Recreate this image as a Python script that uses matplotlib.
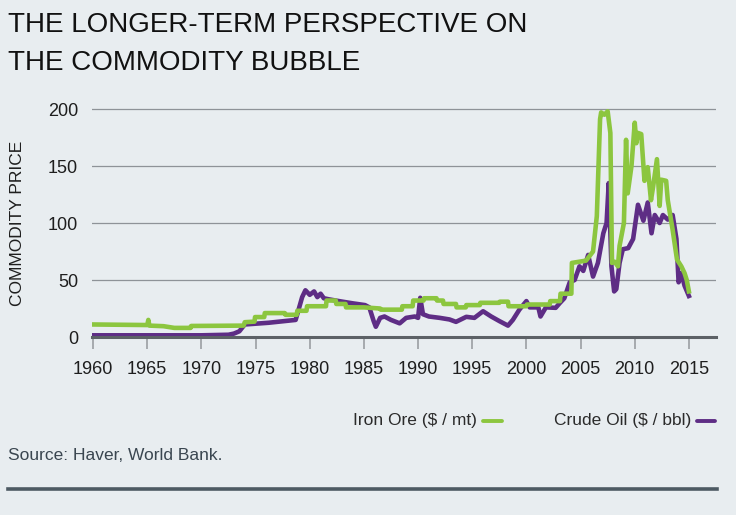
"""
Commodity bubble chart: iron ore vs crude oil, 1960-2015.
Writes out.png (736x515).
"""

import matplotlib.pyplot as plt
from matplotlib.lines import Line2D

# ---- data ------------------------------------------------------------------
iron_years = [
    1960.0, 1965.0, 1965.1, 1965.2, 1966.5, 1967.5, 1969.0, 1969.05, 1973.9,
    1974.0, 1974.9, 1974.95, 1975.8, 1975.85, 1977.7, 1977.75, 1978.8, 1978.85,
    1979.7, 1979.75, 1981.5, 1981.55, 1982.4, 1982.45, 1983.3, 1983.35, 1985.0,
    1986.5, 1986.55, 1988.5, 1988.55, 1989.5, 1989.55, 1990.5, 1990.55, 1991.7,
    1991.75, 1992.3, 1992.35, 1993.5, 1993.55, 1994.4, 1994.45, 1995.7, 1995.75,
    1997.5, 1997.55, 1998.3, 1998.35, 2000.0, 2000.05, 2002.15, 2002.2, 2003.1,
    2003.15, 2004.15, 2004.2, 2005.5, 2006.15, 2006.5, 2006.8, 2006.9, 2007.2,
    2007.5, 2007.75, 2007.9, 2008.15, 2008.45, 2008.6, 2009.0, 2009.2, 2009.35,
    2009.7, 2010.0, 2010.15, 2010.3, 2010.6, 2010.9, 2011.2, 2011.5, 2011.7,
    2012.05, 2012.3, 2012.45, 2012.9, 2013.05, 2013.5, 2013.9, 2014.3, 2014.6,
    2014.8, 2015.0,
]
iron_values = [
    11, 10.5, 15, 10, 9.5, 8, 8, 9.7, 10,
    13, 13.5, 17.5, 17.5, 21, 21, 19.5, 19.5, 23,
    23, 27, 27, 32, 32, 29, 29, 26, 26,
    25, 24, 24, 27, 27, 32, 32, 34, 34,
    32, 32, 29, 29, 26, 26, 28, 28, 30,
    30, 31, 31, 27, 27, 28.5, 28.5, 31.5, 31.5,
    38, 38, 65, 67, 75, 106, 191, 197, 195,
    198, 179, 65, 66, 62, 80, 100, 173, 126,
    150, 188, 170, 179, 178, 137, 149, 120, 132,
    156, 115, 138, 137, 120, 94, 68, 62, 56,
    50, 40,
]

oil_years = [
    1960.0, 1970.0, 1972.5, 1973.0, 1973.5, 1974.0, 1976.2, 1978.7, 1979.0,
    1979.3, 1979.6, 1980.0, 1980.4, 1980.7, 1981.0, 1981.3, 1981.8, 1982.7,
    1984.0, 1985.1, 1985.5, 1985.9, 1986.1, 1986.5, 1986.9, 1987.5, 1988.3,
    1988.9, 1989.7, 1990.0, 1990.2, 1990.45, 1991.0, 1992.0, 1992.9, 1993.5,
    1994.45, 1995.2, 1996.0, 1996.75, 1997.5, 1998.3, 1998.75, 1999.35, 2000.0,
    2000.3, 2001.1, 2001.3, 2001.8, 2002.7, 2003.1, 2003.5, 2004.0, 2004.45,
    2004.9, 2005.25, 2005.7, 2006.15, 2006.6, 2007.1, 2007.4, 2007.6, 2007.85,
    2008.1, 2008.3, 2008.6, 2008.9, 2009.4, 2009.85, 2010.3, 2010.8, 2011.2,
    2011.55, 2011.85, 2012.3, 2012.6, 2013.05, 2013.5, 2013.85, 2014.05, 2014.3,
    2014.6, 2015.0,
]
oil_values = [
    1.5, 1.5, 2.0, 3, 5, 11, 12.5, 15, 25,
    35, 41, 37, 40, 35, 38, 34, 33, 31.5,
    29.5, 28, 26, 14, 9, 16.8, 18, 15, 12,
    16.8, 18, 16.8, 34.4, 20, 18, 16.8, 15.4, 13.3,
    17.7, 16.8, 22.6, 18, 14, 10, 15, 24, 31.5,
    26, 26, 18, 26, 25.6, 30, 34, 48, 50,
    62, 58, 72, 53, 65, 91, 100, 135, 62,
    40, 42, 65, 77, 78, 86, 116, 102, 118,
    91, 107, 100, 107, 103, 107, 86, 48, 56,
    45, 36,
]

x_ticks = [1960, 1965, 1970, 1975, 1980, 1985, 1990, 1995, 2000, 2005, 2010, 2015]
y_ticks = [0, 50, 100, 150, 200]

BG = "#e8edf0"
GREEN = "#8cc63f"
PURPLE = "#5e2d85"
SANS = ["Liberation Sans", "DejaVu Sans"]

# ---- figure ----------------------------------------------------------------
fig = plt.figure(figsize=(7.36, 5.15), dpi=100, facecolor=BG)
ax = fig.add_axes([0.125, 0.3456, 0.8478, 0.4538], facecolor=BG)

ax.plot(oil_years, oil_values, color=PURPLE, lw=3.3, solid_joinstyle="round", zorder=3)
ax.plot(iron_years, iron_values, color=GREEN, lw=3.3, solid_joinstyle="round", zorder=4)

ax.set_xlim(1959.9, 2017.5)
ax.set_ylim(0, 205)
ax.set_xticks(x_ticks)
ax.set_yticks(y_ticks)
ax.set_xticklabels([str(t) for t in x_ticks], fontsize=13, family=SANS, color="#1e1e1e")
ax.set_yticklabels([str(t) for t in y_ticks], fontsize=13, family=SANS, color="#1e1e1e")
ax.tick_params(axis="x", length=8.5, width=1.2, color="#9a9ea2", pad=9)
ax.tick_params(axis="y", length=0, pad=10)

ax.grid(axis="y", color="#8e9398", lw=0.9)
ax.set_axisbelow(True)
for side in ("top", "right", "left"):
    ax.spines[side].set_visible(False)
ax.spines["bottom"].set_color("#5c6166")
ax.spines["bottom"].set_linewidth(2.2)
ax.spines["bottom"].set_zorder(5)

fig.text(18 / 736, 1 - 223 / 515, "COMMODITY PRICE", rotation=90, ha="center",
         va="center", fontsize=12.5, family=SANS, color="#1e1e1e")

# title
fig.text(8 / 736, 1 - 25 / 515, "THE LONGER-TERM PERSPECTIVE ON", ha="left",
         va="center", fontsize=20, family=SANS, color="#111111")
fig.text(8 / 736, 1 - 63 / 515, "THE COMMODITY BUBBLE", ha="left",
         va="center", fontsize=20, family=SANS, color="#111111")

# legend, drawn by hand so the sample sits right of the label
legend_y = 1 - 421 / 515
fig.text(477 / 736, legend_y, "Iron Ore ($ / mt)", ha="right", va="center",
         fontsize=12.5, family=SANS, color="#2b2b2b")
fig.add_artist(Line2D([483 / 736, 502 / 736], [legend_y, legend_y],
                      color=GREEN, lw=2.8, solid_capstyle="round"))
fig.text(691 / 736, legend_y, "Crude Oil ($ / bbl)", ha="right", va="center",
         fontsize=12.5, family=SANS, color="#2b2b2b")
fig.add_artist(Line2D([697 / 736, 715 / 736], [legend_y, legend_y],
                      color=PURPLE, lw=2.8, solid_capstyle="round"))

# source + rule
fig.text(8 / 736, 1 - 455 / 515, "Source: Haver, World Bank.", ha="left",
         va="center", fontsize=12.5, family=SANS, color="#3a4650")
fig.add_artist(Line2D([8 / 736, 717 / 736], [1 - 489 / 515, 1 - 489 / 515],
                      color="#4d5a63", lw=2.6))

fig.savefig("out.png", dpi=100, facecolor=BG)
